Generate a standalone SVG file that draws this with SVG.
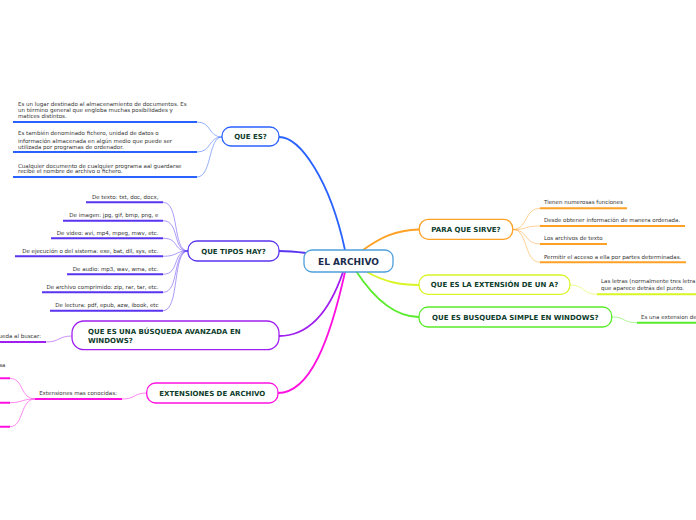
<svg xmlns="http://www.w3.org/2000/svg" width="696" height="520" viewBox="0 0 696 520">
<style>
.nt{font-family:"DejaVu Sans",Verdana,sans-serif;font-weight:bold;font-size:7px;fill:#0f3d2c}
.ct{font-family:"DejaVu Sans",Verdana,sans-serif;font-size:5.5px;fill:#333}
.node{fill:#fff;stroke-width:1.3}
.main{fill:none;stroke-width:1.8;stroke-linecap:round}
.sub{fill:none;stroke-width:0.9;stroke-opacity:0.55}
.ul{fill:none;stroke-width:2}
</style>
<rect width="696" height="520" fill="#fff"/>
<g id="connectors">
  <path class="main" stroke="#2962ff" d="M279,137 C300,137 330,180 345,250"/>
  <path class="main" stroke="#5a35f0" d="M279,251 C290,251 298,252 306,253"/>
  <path class="main" stroke="#a01ff0" d="M343,272 C330,310 310,336 279,336"/>
  <path class="main" stroke="#ff10e0" d="M345,272 C330,340 310,393 278,393"/>
  <path class="main" stroke="#ffa126" d="M363,250 C380,238 395,230 419,229.5"/>
  <path class="main" stroke="#d9f526" d="M367,272 C385,282 400,285 419,285"/>
  <path class="main" stroke="#59ec2a" d="M356,271 C375,300 395,317 419,317"/>
  <!-- QUE ES children -->
  <g stroke="#2962ff">
    <path class="sub" d="M197,122 C212,122 208,137 222,137"/>
    <path class="sub" d="M197,152 C212,152 208,137 222,137"/>
    <path class="sub" d="M197,177 C212,177 208,137 222,137"/>
    <path class="ul" d="M13,122 H197 M13,152 H197 M13,177 H197"/>
  </g>
  <!-- QUE TIPOS children -->
  <g stroke="#5a35f0">
    <path class="sub" d="M163,202.3 C180,202.3 172,251 188,251"/>
    <path class="sub" d="M163,220.7 C180,220.7 172,251 188,251"/>
    <path class="sub" d="M163,238.3 C180,238.3 172,251 188,251"/>
    <path class="sub" d="M163,256.3 C178,256.3 175,251 188,251"/>
    <path class="sub" d="M163,274.3 C180,274.3 172,251 188,251"/>
    <path class="sub" d="M163,292.3 C180,292.3 172,251 188,251"/>
    <path class="sub" d="M163,310.7 C180,310.7 172,251 188,251"/>
    <path class="ul" d="M86,202.3 H163 M63,220.7 H163 M51,238.3 H163 M15,256.3 H163 M67,274.3 H163 M42,292.3 H163 M50,310.7 H163"/>
  </g>
  <!-- avanzada child -->
  <g stroke="#a01ff0">
    <path class="sub" d="M46,342 C60,342 58,336 72,336"/>
    <path class="ul" d="M0,342 H46"/>
  </g>
  <!-- extensiones children -->
  <g stroke="#ff10e0">
    <path class="sub" d="M122,399 C136,399 133,393 147,393"/>
    <path class="ul" d="M35,399 H122"/>
    <path class="sub" d="M10,378.3 C24,378.3 20,399 35,399"/>
    <path class="sub" d="M10,402.7 C22,402.7 22,399 35,399"/>
    <path class="sub" d="M10,426.7 C24,426.7 20,399 35,399"/>
    <path class="ul" d="M0,378.3 H10 M0,402.7 H10 M0,426.7 H10"/>
  </g>
  <!-- para que sirve children -->
  <g stroke="#ffa126">
    <path class="sub" d="M513,229.5 C528,229.5 524,208.3 540,208.3"/>
    <path class="sub" d="M513,229.5 C528,229.5 524,226 540,226"/>
    <path class="sub" d="M513,229.5 C528,229.5 524,244 540,244"/>
    <path class="sub" d="M513,229.5 C528,229.5 524,262.3 540,262.3"/>
    <path class="ul" d="M540,208.3 H627 M540,226 H685 M540,244 H607 M540,262.3 H686"/>
  </g>
  <g stroke="#d9f526">
    <path class="sub" d="M570,285 C585,285 582,294.3 597,294.3"/>
    <path class="ul" d="M597,294.3 H696"/>
  </g>
  <g stroke="#59ec2a">
    <path class="sub" d="M612,317 C626,317 622,322.7 637,322.7"/>
    <path class="ul" d="M637,322.7 H696"/>
  </g>
</g>
<g id="center">
  <rect class="node" x="304" y="250" width="89" height="22" rx="8" stroke="#4d9fdb"/>
  <text x="348.5" y="264.5" text-anchor="middle" style="font-family:'DejaVu Sans',Verdana,sans-serif;font-weight:bold;font-size:9px;fill:#1a2b4c">EL ARCHIVO</text>
</g>
<g id="que-es">
  <rect class="node" x="222" y="127" width="57" height="19" rx="9" stroke="#2962ff"/>
  <text class="nt" x="250.5" y="139.3" text-anchor="middle">QUE ES?</text>
  <text class="ct" x="18" y="105.5">Es un lugar destinado al almacenamiento de documentos. Es</text>
  <text class="ct" x="18" y="111.7">un término general que engloba muchas posibilidades y</text>
  <text class="ct" x="18" y="118">matices distintos.</text>
  <text class="ct" x="18" y="135">Es también denominado fichero, unidad de datos o</text>
  <text class="ct" x="18" y="142.5">información almacenada en algún medio que puede ser</text>
  <text class="ct" x="18" y="149.2">utilizada por programas de ordenador.</text>
  <text class="ct" x="18" y="167.5">Cualquier documento de cualquier programa aal guardarse</text>
  <text class="ct" x="18" y="173.3">recibe el nombre de archivo o fichero.</text>
</g>
<g id="que-tipos">
  <rect class="node" x="188" y="241" width="91" height="20" rx="9" stroke="#5a35f0"/>
  <text class="nt" x="233.5" y="253.5" text-anchor="middle">QUE TIPOS HAY?</text>
  <g text-anchor="end">
    <text class="ct" x="158.5" y="199.2">De texto: txt, doc, docx,</text>
    <text class="ct" x="158.5" y="217">De imagen: jpg, gif, bmp, png, e</text>
    <text class="ct" x="158.5" y="235">De video: avi, mp4, mpeg, mwv, etc.</text>
    <text class="ct" x="158.5" y="253">De ejecución o del sistema: exe, bat, dll, sys, etc.</text>
    <text class="ct" x="158.5" y="270.7">De audio: mp3, wav, wma, etc.</text>
    <text class="ct" x="158.5" y="288.7">De archivo comprimido: zip, rar, tar, etc.</text>
    <text class="ct" x="158.5" y="306.7">De lectura: pdf, epub, azw, ibook, etc</text>
  </g>
</g>
<g id="avanzada">
  <rect class="node" x="72" y="321" width="207" height="28.7" rx="12" stroke="#a01ff0"/>
  <text class="nt" x="88" y="333.8">QUE ES UNA BÚSQUEDA AVANZADA EN</text>
  <text class="nt" x="88" y="342.5">WINDOWS?</text>
  <text class="ct" x="41" y="338" text-anchor="end">queda al buscar:</text>
</g>
<g id="extensiones">
  <rect class="node" x="146.7" y="383" width="131.3" height="20" rx="9" stroke="#ff10e0"/>
  <text class="nt" x="212.3" y="395.5" text-anchor="middle">EXTENSIONES DE ARCHIVO</text>
  <text class="ct" x="78" y="395" text-anchor="middle">Extensiones mas conocidas:</text>
  <text class="ct" x="5.5" y="367" text-anchor="end">sa</text>
</g>
<g id="para-que-sirve">
  <rect class="node" x="419.3" y="219.3" width="93.4" height="20" rx="9" stroke="#ffa126"/>
  <text class="nt" x="466" y="231.8" text-anchor="middle">PARA QUE SIRVE?</text>
  <text class="ct" x="544" y="204.2">Tienen numerosas funciones</text>
  <text class="ct" x="544" y="222">Desde obtener información de manera ordenada.</text>
  <text class="ct" x="544" y="240">Los archivos de texto</text>
  <text class="ct" x="544" y="258.6">Permitir el acceso a ella por partes determinadas.</text>
</g>
<g id="extension-de-un-a">
  <rect class="node" x="419" y="275" width="151" height="19.3" rx="9" stroke="#d9f526"/>
  <text class="nt" x="494.5" y="287.3" text-anchor="middle">QUE ES LA EXTENSIÓN DE UN A?</text>
  <text class="ct" x="601" y="283.3">Las letras (normalmente tres letra</text>
  <text class="ct" x="601" y="290.3">que aparece detrás del punto.</text>
</g>
<g id="busqueda-simple">
  <rect class="node" x="419" y="307" width="192.7" height="20" rx="9" stroke="#59ec2a"/>
  <text class="nt" x="515.3" y="319.5" text-anchor="middle">QUE ES BUSQUEDA SIMPLE EN WINDOWS?</text>
  <text class="ct" x="641" y="318.7">Es una extension de</text>
</g>
</svg>
